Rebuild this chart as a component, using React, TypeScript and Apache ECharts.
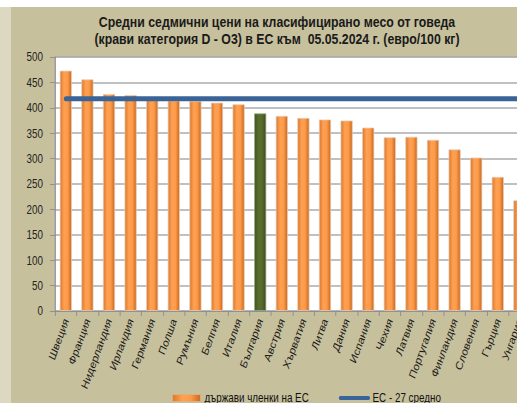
import React, { useEffect, useRef } from "react";
import * as echarts from "echarts";

const titleLines = [
  "Средни седмични цени на класифицирано месо от говеда",
  "(крави категория D - O3) в ЕС към  05.05.2024 г. (евро/100 кг)",
];
const categories = [
  "Швеция", "Франция", "Нидерландия", "Ирландия", "Германия", "Полша", "Румъния",
  "Белгия", "Италия", "България", "Австрия", "Хърватия", "Литва", "Дания",
  "Испания", "Чехия", "Латвия", "Португалия", "Финландия", "Словения", "Гърция", "Унгария",
];
const prices = [
  473, 456, 427, 425, 415, 414, 413, 410, 407, 389, 384, 380, 377, 375,
  361, 342, 343, 337, 318, 302, 264, 218,
];
const highlighted = "България";
const euAverage = 418;
const barSeriesName = "държави членки на ЕС";
const lineSeriesName = "ЕС - 27 средно";
const yTicks = { min: 0, max: 500, interval: 50 };

// The reference's typeface is a condensed Arial; we draw with Arial metrics
// (Liberation Sans) and condense the whole drawing horizontally.
const S = 0.82;
const FONT = "'Liberation Sans', Arial, sans-serif";
const px = (v: number) => v / S;

const orangeGrad = new echarts.graphic.LinearGradient(0, 0, 1, 0, [
  { offset: 0, color: "#d9782f" },
  { offset: 0.35, color: "#ffa052" },
  { offset: 0.65, color: "#fd9b4a" },
  { offset: 1, color: "#c9691f" },
]);
const greenGrad = new echarts.graphic.LinearGradient(0, 0, 1, 0, [
  { offset: 0, color: "#44561f" },
  { offset: 0.4, color: "#5a6f2e" },
  { offset: 0.7, color: "#56692b" },
  { offset: 1, color: "#3b4a1a" },
]);

export default function App() {
  const ref = useRef<HTMLDivElement>(null);
  useEffect(() => {
    if (!ref.current) return;
    const chart = echarts.init(ref.current, undefined, { renderer: "svg" });
    chart.setOption({
      animation: false,
      backgroundColor: "#c7c09c",
      title: {
        text: titleLines.join("\n"),
        left: px(277),
        top: 7,
        padding: 0,
        textAlign: "center",
        textStyle: { fontFamily: FONT, fontSize: 15, fontWeight: "bold", color: "#1a1a1a", lineHeight: 17 },
      },
      graphic: [
        { type: "rect", left: 0, top: 0, shape: { width: px(11), height: 420 }, style: { fill: "#ddd8c2" }, z: -1 },
      ],
      grid: {
        left: px(55),
        top: 50,
        width: px(22 * 21.6),
        height: 254,
        show: true,
        backgroundColor: "#ffffff",
        borderColor: "#a8a8a8",
        borderWidth: 1,
      },
      legend: {
        left: px(172),
        top: 385,
        padding: 0,
        itemWidth: px(28),
        itemHeight: 7,
        itemGap: px(30),
        textStyle: { fontFamily: FONT, fontSize: 12, color: "#111" },
        data: [
          { name: barSeriesName, icon: "rect", itemStyle: { color: orangeGrad, borderColor: "#e0b080", borderWidth: 1 } },
          { name: lineSeriesName, itemStyle: { opacity: 0 }, lineStyle: { color: "#3a6497", width: 4 } },
        ],
      },
      xAxis: {
        type: "category",
        data: categories,
        axisLine: { lineStyle: { color: "#8c8c8c", width: 1 } },
        axisTick: { show: true, length: 5, lineStyle: { color: "#8c8c8c" } },
        axisLabel: {
          rotate: 66,
          interval: 0,
          margin: 8,
          fontFamily: FONT,
          fontSize: 12,
          color: "#1a1a1a",
        },
      },
      yAxis: {
        type: "value",
        min: yTicks.min,
        max: yTicks.max,
        interval: yTicks.interval,
        axisLine: { show: true, lineStyle: { color: "#8c8c8c" } },
        axisTick: { show: true, length: px(5), lineStyle: { color: "#8c8c8c" } },
        axisLabel: { fontFamily: FONT, fontSize: 12, color: "#222", margin: px(12) },
        splitLine: { lineStyle: { color: "#ababab", width: 1.5 } },
      },
      series: [
        {
          name: barSeriesName,
          type: "bar",
          barWidth: px(12),
          itemStyle: { color: orangeGrad, borderColor: "#e6cdb8", borderWidth: 0.8 },
          data: categories.map((c, i) =>
            c === highlighted
              ? { value: prices[i], itemStyle: { color: greenGrad, borderColor: "#9aa88a" } }
              : prices[i]
          ),
          z: 2,
        },
        {
          name: lineSeriesName,
          type: "line",
          symbol: "none",
          lineStyle: { color: "#3a6497", width: 5, cap: "round" },
          itemStyle: { color: "#3a6497" },
          data: categories.map(() => euAverage),
          z: 3,
        },
      ],
    });
    return () => chart.dispose();
  }, []);
  return (
    <div style={{ position: "fixed", left: 0, top: 0, width: 517, height: 403, overflow: "hidden", background: "#ffffff" }}>
      <div
        ref={ref}
        style={{
          position: "absolute",
          left: 0,
          top: 7,
          width: px(560),
          height: 420,
          transform: `scaleX(${S})`,
          transformOrigin: "0 0",
        }}
      />
    </div>
  );
}
